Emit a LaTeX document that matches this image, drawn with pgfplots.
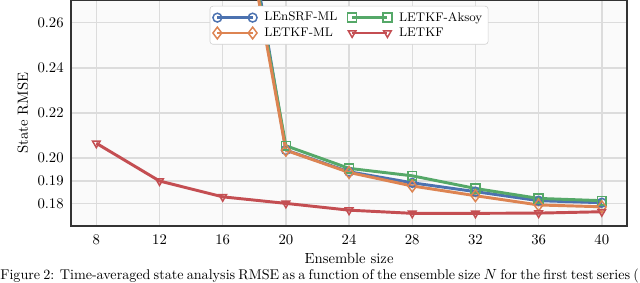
\documentclass[border=0pt]{standalone}
\usepackage{pgfplots}
\pgfplotsset{compat=1.18}
\definecolor{cblue}{HTML}{4C72B0}
\definecolor{corange}{HTML}{DD8452}
\definecolor{cgreen}{HTML}{55A868}
\definecolor{cred}{HTML}{C44E52}
\definecolor{bgc}{HTML}{FAFAFA}
\definecolor{gridc}{HTML}{DCDCDC}
\definecolor{framec}{HTML}{333333}
\definecolor{legc}{HTML}{D0D0D0}
\begin{document}
\begin{tikzpicture}
\useasboundingbox (0,0) rectangle (435pt,192.3pt);
\begin{axis}[
  at={(48.3pt,38.7pt)}, anchor=south west,
  width=377.9pt, height=153.6pt, scale only axis,
  xmin=6.4, xmax=41.6, ymin=0.17, ymax=0.27,
  xtick={8,12,16,20,24,28,32,36,40},
  ytick={0.18,0.19,0.20,0.22,0.24,0.26},
  yticklabel style={/pgf/number format/fixed, /pgf/number format/fixed zerofill, /pgf/number format/precision=2, xshift=-1.5pt},
  xticklabel style={yshift=-2.7pt},
  grid=major, major grid style={color=gridc, line width=1pt},
  major tick length=0pt,
  axis background/.style={fill=bgc},
  axis line style={color=framec, line width=0.9pt},
  xlabel={Ensemble size}, ylabel={State RMSE},
  every axis x label/.style={at={(axis description cs:0.5,-0.142)}, anchor=center},
  every axis y label/.style={at={(axis description cs:-0.0865,0.5)}, rotate=90, anchor=center},
  legend columns=2,
  legend cell align=left,
  legend image code/.code={%
    \draw[#1, mark=none] (0pt,0pt) -- (24pt,0pt);
    \draw[#1] plot coordinates {(0pt,0pt)};
    \draw[#1] plot coordinates {(24pt,0pt)};
    \path (29pt,0pt);},
  legend style={at={(0.5,1)}, anchor=north, yshift=-4pt, draw=legc, rounded corners=2pt, fill=white,
    font=\fontsize{8.5}{10}\selectfont, inner xsep=2pt, inner ysep=2pt,
    /tikz/every even column/.append style={column sep=5pt},
    row sep=-1pt},
  every axis plot/.append style={line width=2pt, mark size=3pt},
]
% segments leaving the top of the axis (point at N=16 lies above the visible range)
\addplot[color=cblue, forget plot] coordinates {(16,0.370) (20,0.2036)};
\addplot[color=cgreen, forget plot] coordinates {(16,0.360) (20,0.2055)};
\addplot[color=corange, forget plot] coordinates {(16,0.358) (20,0.2035)};
\addplot[color=cblue, mark=o, mark options={fill=white, solid, line width=1pt}] coordinates {
 (20,0.2036) (24,0.1940) (28,0.1891) (32,0.1852) (36,0.1812) (40,0.1803)};
\addlegendentry{LEnSRF-ML}
\addplot[color=cgreen, mark=square, mark options={fill=white, solid, line width=1pt}] coordinates {
 (20,0.2055) (24,0.1955) (28,0.1922) (32,0.1866) (36,0.1822) (40,0.1812)};
\addlegendentry{LETKF-Aksoy}
\addplot[color=corange, mark=diamond, mark size=4pt, mark options={fill=white, solid, line width=1pt}] coordinates {
 (20,0.2035) (24,0.1937) (28,0.1877) (32,0.1834) (36,0.1793) (40,0.1785)};
\addlegendentry{LETKF-ML}
\addplot[color=cred, mark=triangle, mark options={fill=white, solid, line width=1pt, rotate=180}] coordinates {
 (8,0.2066) (12,0.1899) (16,0.1829) (20,0.1800) (24,0.1770) (28,0.1756) (32,0.1756) (36,0.1757) (40,0.1763)};
\addlegendentry{LETKF}
\end{axis}
\node[anchor=base west, inner sep=0pt] at (0pt,2.5pt) {\fontsize{9.6}{11}\selectfont\hbox to 434pt{Figure 2: Time-averaged state analysis RMSE as a function of the ensemble size $N$ for the first test series (}};
\end{tikzpicture}
\end{document}
